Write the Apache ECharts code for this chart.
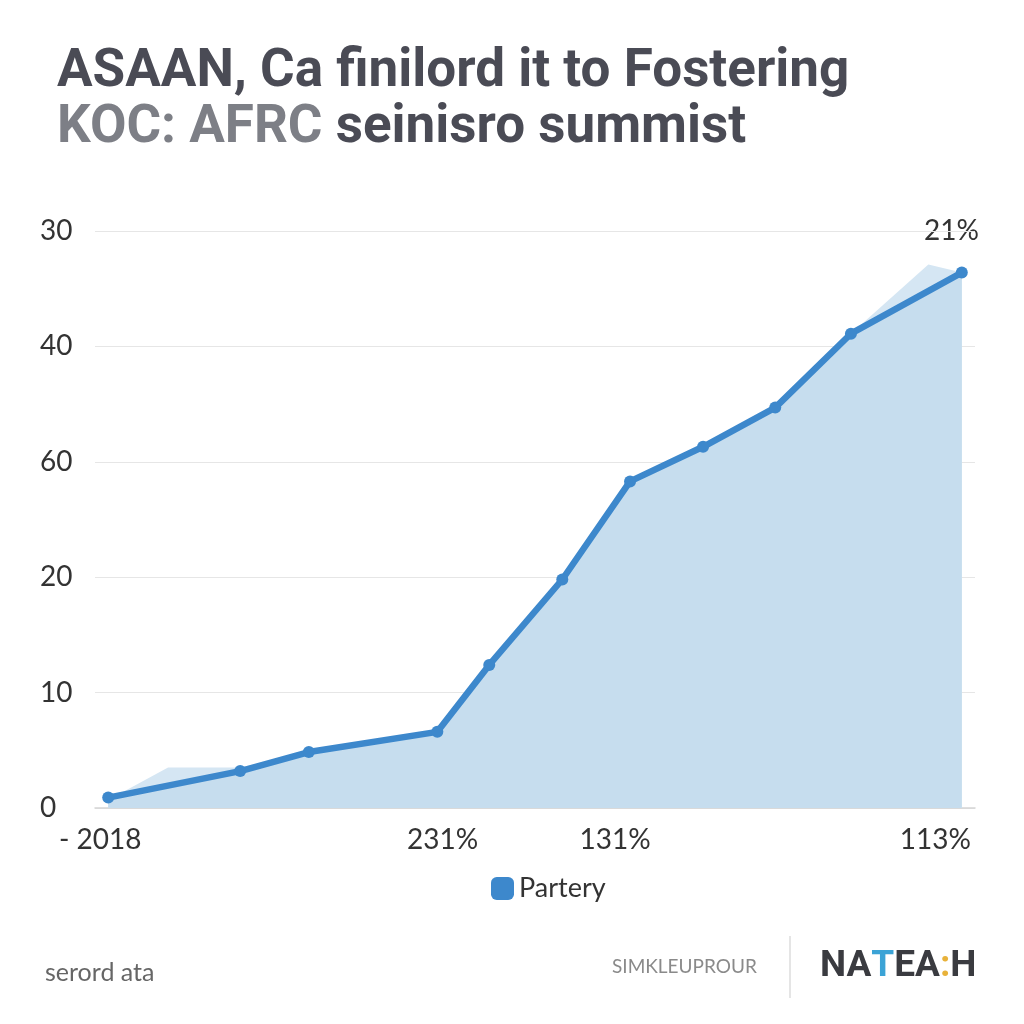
<!DOCTYPE html>
<html>
<head>
<meta charset="utf-8">
<script src="https://cdn.jsdelivr.net/npm/echarts@6/dist/echarts.min.js"></script>
<style>html,body{margin:0;padding:0;background:#fff}#c{width:1024px;height:1024px}</style>
</head>
<body>
<div id="c"></div>
<script>
// ---- data ----
const xValues = [1.5, 16.5, 24.3, 38.9, 44.8, 53.1, 60.8, 69.1, 77.3, 85.9, 98.5];
const yValues = [0.9, 3.2, 4.85, 6.6, 12.4, 19.8, 28.3, 31.3, 34.7, 41.1, 46.4];
const shadowX = [1.5, 8.3, 16.5, 24.3, 38.9, 44.8, 53.1, 60.8, 69.1, 77.3, 85.9, 94.7, 98.5];
const shadowY = [0.7, 3.5, 3.5, 4.85, 6.6, 12.4, 19.8, 28.3, 31.3, 34.7, 41.1, 47.1, 46.4];
const yTickLabels = ['0', '10', '20', '60', '40', '30'];
const xLabelPos = [0.6, 39.5, 59.1, 95.5];
const xLabels = ['- 2018', '231%', '131%', '113%'];
const seriesName = 'Partery';

const mainData = xValues.map((x, i) => [x, yValues[i]]);
const shadowData = shadowX.map((x, i) => [x, shadowY[i]]);

const chart = echarts.init(document.getElementById('c'));
chart.setOption({
  backgroundColor: '#ffffff',
  animation: false,
  title: {
    left: 52, top: 40,
    text: '{a|ASAAN, Ca finilord it to Fostering}\n{b|KOC: AFRC}{a| seinisro summist}',
    textStyle: {
      rich: {
        a: { fontFamily: 'Roboto', fontWeight: 'bold', fontSize: 53, color: '#4a4b55', lineHeight: 56 },
        b: { fontFamily: 'Roboto', fontWeight: 'bold', fontSize: 53, color: '#7d7f86', lineHeight: 56 }
      }
    }
  },
  grid: { left: 95, right: 49, top: 231, bottom: 216 },
  legend: {
    data: [seriesName],
    top: 870, left: 486,
    icon: 'roundRect', itemWidth: 23, itemHeight: 23, itemGap: 6,
    textStyle: { fontFamily: 'Lato', fontSize: 27, color: '#333' }
  },
  xAxis: {
    type: 'value', min: 0, max: 100,
    splitLine: { show: false },
    axisTick: { show: false },
    axisLine: { show: true, lineStyle: { color: '#d5d5d5', width: 1.5 } },
    axisLabel: {
      customValues: xLabelPos,
      margin: 18,
      fontFamily: 'Lato', fontSize: 28, color: '#333',
      formatter: v => { const i = xLabelPos.indexOf(v); return i >= 0 ? xLabels[i] : ''; }
    }
  },
  yAxis: {
    type: 'value', min: 0, max: 50, interval: 10,
    axisLine: { show: false },
    axisTick: { show: false },
    splitLine: { lineStyle: { color: '#e6e6e6', width: 1.2 } },
    axisLabel: {
      align: 'left', margin: 55,
      fontFamily: 'Lato', fontSize: 28, color: '#333',
      formatter: v => yTickLabels[Math.round(v / 10)]
    }
  },
  graphic: [
    { type: 'text', left: 924, top: 217, style: { text: '21%', font: '28px Lato', fill: '#333' } },
    { type: 'text', left: 45, top: 960, style: { text: 'serord ata', font: '25px Lato', fill: '#666' } },
    { type: 'text', left: 612, top: 957, style: { text: 'SIMKLEUPROUR', font: '19px Lato', fill: '#8a8a8a' } },
    { type: 'line', shape: { x1: 790, y1: 936, x2: 790, y2: 998 }, style: { stroke: '#dddddd', lineWidth: 1.5 } },
    { type: 'text', left: 820, top: 948, style: {
        text: '{d|NA}{t|T}{d|EA}{y|:}{d|H}',
        rich: {
          d: { font: 'bold 37px Roboto', fill: '#3a3b40' },
          t: { font: 'bold 37px Roboto', fill: '#3ba3d6' },
          y: { font: 'bold 37px Roboto', fill: '#e8b23a' }
        }
      } }
  ],
  series: [
    {
      type: 'line', name: 'shadow', data: shadowData,
      symbol: 'none', lineStyle: { width: 0 },
      areaStyle: { color: '#d5e6f3', opacity: 1 },
      z: 1, silent: true
    },
    {
      type: 'line', name: seriesName, data: mainData,
      symbol: 'circle', symbolSize: 12,
      itemStyle: { color: '#3d88cc' },
      lineStyle: { color: '#3d88cc', width: 6.5 },
      areaStyle: { color: '#c6ddee', opacity: 1 },
      z: 2
    }
  ]
});
</script>
</body>
</html>
